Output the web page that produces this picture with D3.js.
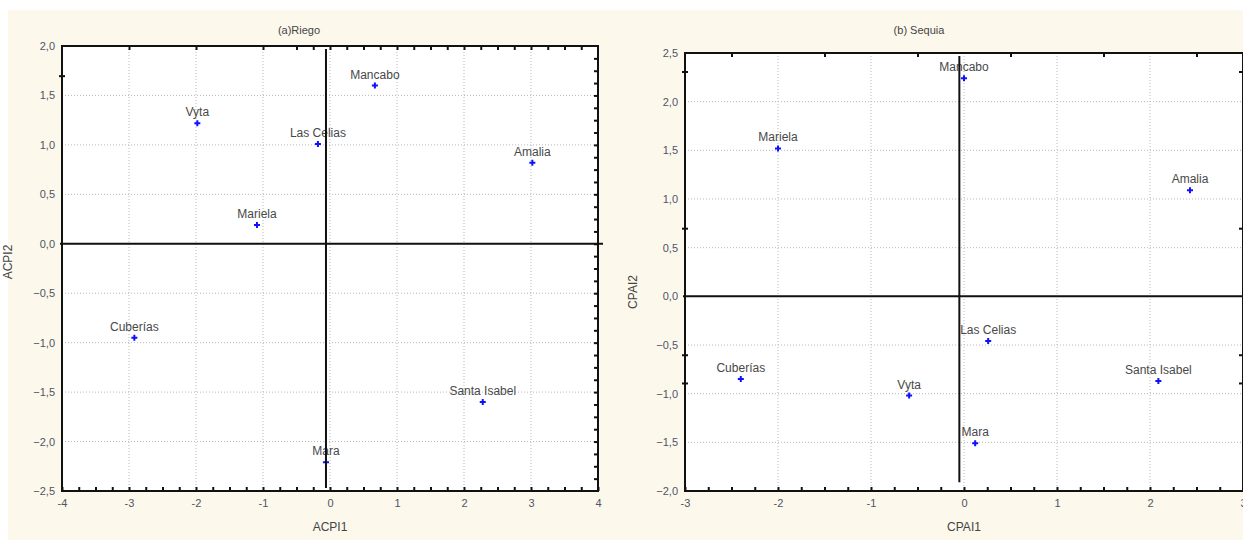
<!DOCTYPE html>
<html>
<head>
<meta charset="utf-8">
<script src="https://cdn.jsdelivr.net/npm/d3@7"></script>
<style>
  body { margin: 0; background: #fff; }
  text { font-family: "Liberation Sans", Arial, sans-serif; }
</style>
</head>
<body>
<div id="chart"></div>
<script>
// cultivars shared by both panels
var cultivars = ["Mancabo", "Vyta", "Las Celias", "Amalia", "Mariela", "Cuberías", "Santa Isabel", "Mara"];

// (a) Riego scores
var riegoX = [0.67, -1.98, -0.18, 3.02, -1.09, -2.92, 2.28, -0.06];
var riegoY = [1.60, 1.22, 1.01, 0.82, 0.19, -0.95, -1.60, -2.21];

// (b) Sequia scores
var sequiaX = [0.00, -0.59, 0.26, 2.43, -2.00, -2.40, 2.09, 0.12];
var sequiaY = [2.24, -1.02, -0.46, 1.09, 1.52, -0.85, -0.87, -1.51];

// tick labels
var riegoXTicks = [-4, -3, -2, -1, 0, 1, 2, 3, 4];
var riegoYTicks = [2.0, 1.5, 1.0, 0.5, 0.0, -0.5, -1.0, -1.5, -2.0, -2.5];
var sequiaXTicks = [-3, -2, -1, 0, 1, 2, 3];
var sequiaYTicks = [2.5, 2.0, 1.5, 1.0, 0.5, 0.0, -0.5, -1.0, -1.5, -2.0];

var width = 1243, height = 540;

var svg = d3.select("#chart").append("svg")
    .attr("width", width)
    .attr("height", height);

// cream page background
svg.append("rect")
    .attr("x", 8).attr("y", 10)
    .attr("width", width - 8).attr("height", height - 10)
    .attr("fill", "#fdf8ec");

var fmt = function(d){ return d3.format(".1f")(d).replace(".", ","); };

function drawPanel(cfg) {
    var g = svg.append("g");
    var x = d3.scaleLinear().domain(cfg.xDomain).range(cfg.xRange);
    var y = d3.scaleLinear().domain(cfg.yDomain).range(cfg.yRange);
    var x0 = cfg.xRange[0], x1 = cfg.xRange[1], y0 = cfg.yRange[1], y1 = cfg.yRange[0];

    // plot area
    g.append("rect")
        .attr("x", x0).attr("y", y0)
        .attr("width", x1 - x0).attr("height", y1 - y0)
        .attr("fill", "#fff");

    // dotted grid
    g.selectAll(".vgrid").data(cfg.xTicks.slice(1, -1)).enter().append("line")
        .attr("x1", function(d){ return x(d); }).attr("x2", function(d){ return x(d); })
        .attr("y1", y0).attr("y2", y1)
        .attr("stroke", "#b8b8b8").attr("stroke-dasharray", "1,2");
    g.selectAll(".hgrid").data(cfg.yTicks.slice(1, -1)).enter().append("line")
        .attr("y1", function(d){ return y(d); }).attr("y2", function(d){ return y(d); })
        .attr("x1", x0).attr("x2", x1)
        .attr("stroke", "#b8b8b8").attr("stroke-dasharray", "1,2");

    // minor ticks on the frame
    g.append("g").attr("transform", "translate(0," + y1 + ")")
        .call(d3.axisBottom(x).tickValues(d3.range(cfg.xDomain[0], cfg.xDomain[1] + 0.01, 0.25))
            .tickSize(-4).tickFormat(""))
        .call(function(a){ a.select(".domain").remove(); });
    g.append("g").attr("transform", "translate(0," + y0 + ")")
        .call(d3.axisTop(x).tickValues(cfg.topTicks).tickSize(-4).tickFormat(""))
        .call(function(a){ a.select(".domain").remove(); });
    g.append("g").attr("transform", "translate(" + x1 + ",0)")
        .call(d3.axisRight(y).tickValues(cfg.rightTicks).tickSize(-4).tickFormat(""))
        .call(function(a){ a.select(".domain").remove(); });
    g.append("g").attr("transform", "translate(" + (x0 + 3) + ",0)")
        .call(d3.axisLeft(y).tickValues(cfg.leftTicks).tickSize(6).tickFormat(""))
        .call(function(a){ a.select(".domain").remove(); });
    g.selectAll(".tick line").attr("stroke", "#111").attr("stroke-width", 2);

    // tick labels
    g.append("g").attr("transform", "translate(0," + y1 + ")")
        .call(d3.axisBottom(x).tickValues(cfg.xTicks).tickSize(0).tickPadding(8)
            .tickFormat(function(d){ return d < 0 ? "-" + Math.abs(d) : d; }))
        .call(function(a){ a.select(".domain").remove(); })
        .selectAll("text").attr("font-size", 11).attr("fill", "#4e5566");
    g.append("g").attr("transform", "translate(" + x0 + ",0)")
        .call(d3.axisLeft(y).tickValues(cfg.yTicks).tickSize(0).tickPadding(7).tickFormat(fmt))
        .call(function(a){ a.select(".domain").remove(); })
        .selectAll("text").attr("font-size", 11).attr("fill", "#4e5566");

    // frame
    g.append("rect")
        .attr("x", x0).attr("y", y0)
        .attr("width", x1 - x0).attr("height", y1 - y0)
        .attr("fill", "none").attr("stroke", "#111").attr("stroke-width", 2);

    // reference lines
    g.append("line")
        .attr("x1", x0 - 2).attr("x2", cfg.hLineEnd)
        .attr("y1", y(0)).attr("y2", y(0))
        .attr("stroke", "#111").attr("stroke-width", 2);

    // points
    var pts = g.selectAll(".pt").data(cfg.names).enter().append("g")
        .attr("transform", function(d, i){ return "translate(" + x(cfg.xs[i]) + "," + y(cfg.ys[i]) + ")"; });
    pts.append("path")
        .attr("d", "M-3,0H3M0,-3V3")
        .attr("stroke", "#1010ff").attr("stroke-width", 2);
    pts.append("text")
        .attr("y", -7)
        .attr("text-anchor", "middle")
        .attr("font-size", 12)
        .attr("fill", "#484848")
        .text(function(d){ return d; });

    g.append("line")
        .attr("x1", x(cfg.vLineX)).attr("x2", x(cfg.vLineX))
        .attr("y1", y0 + 3).attr("y2", y(cfg.vLineEnd))
        .attr("stroke", "#111").attr("stroke-width", 2);

    // titles
    g.append("text")
        .attr("x", cfg.titleX).attr("y", 34)
        .attr("text-anchor", "middle").attr("font-size", 11).attr("fill", "#444")
        .text(cfg.title);
    g.append("text")
        .attr("x", (x0 + x1) / 2).attr("y", 531)
        .attr("text-anchor", "middle").attr("font-size", 12).attr("fill", "#444")
        .text(cfg.xLabel);
    g.append("text")
        .attr("transform", "translate(" + cfg.yLabelX + "," + cfg.yLabelY + ") rotate(-90)")
        .attr("text-anchor", "middle").attr("font-size", 12).attr("fill", "#444")
        .text(cfg.yLabel);
}

drawPanel({
    names: cultivars, xs: riegoX, ys: riegoY,
    xDomain: [-4, 4], xRange: [62, 598],
    yDomain: [-2.5, 2], yRange: [491, 46],
    xTicks: riegoXTicks, yTicks: riegoYTicks,
    topTicks: d3.range(-0.5, 4, 0.25).concat([-2, -3, -1]),
    rightTicks: d3.range(-2.375, 2, 0.125),
    leftTicks: [1.7],
    vLineX: -0.06, vLineEnd: -2.47, hLineEnd: 603,
    title: "(a)Riego", titleX: 299,
    xLabel: "ACPI1", yLabel: "ACPI2", yLabelX: 12, yLabelY: 262
});

drawPanel({
    names: cultivars, xs: sequiaX, ys: sequiaY,
    xDomain: [-3, 3], xRange: [685, 1243],
    yDomain: [-2, 2.5], yRange: [491, 53],
    xTicks: sequiaXTicks, yTicks: sequiaYTicks,
    topTicks: [-2.5, -1.5, -0.5, 0.5, 1.5, 2.5],
    rightTicks: [2.31, 0.70, -0.60, -0.89],
    leftTicks: [2.31, 0.70, -0.60, -0.89],
    vLineX: -0.05, vLineEnd: -1.91, hLineEnd: 1243,
    title: "(b) Sequia", titleX: 919,
    xLabel: "CPAI1", yLabel: "CPAI2", yLabelX: 637, yLabelY: 292
});
</script>
</body>
</html>
